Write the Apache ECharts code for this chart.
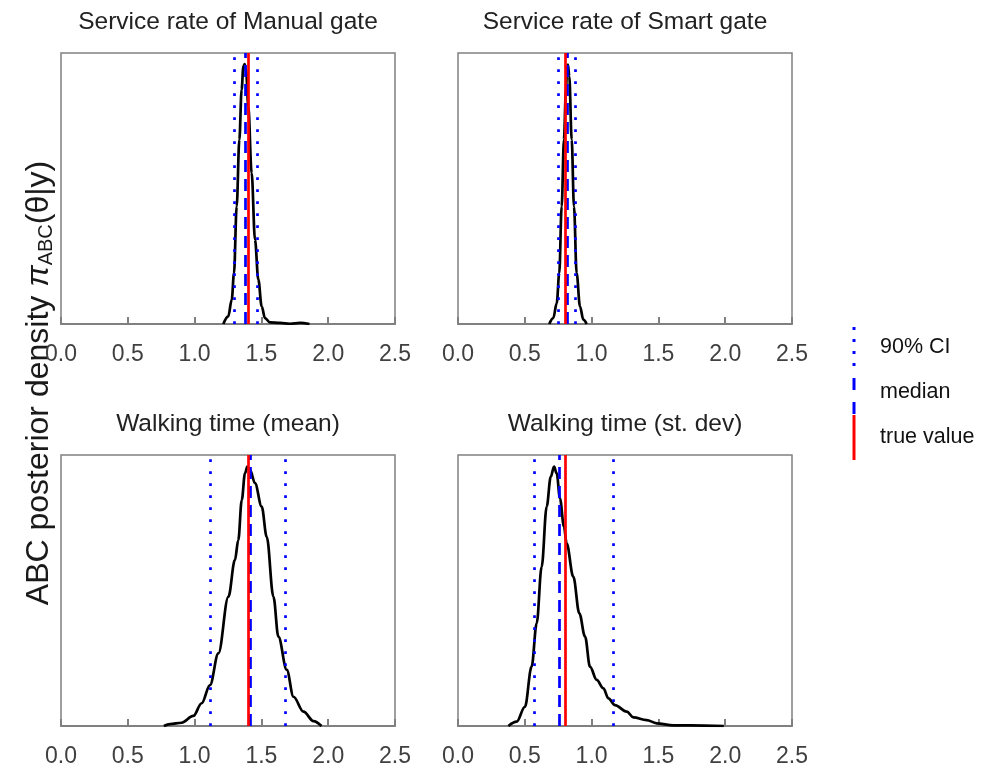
<!DOCTYPE html>
<html>
<head>
<meta charset="utf-8">
<script src="https://cdn.jsdelivr.net/npm/echarts@6/dist/echarts.min.js"></script>
<style>
  html, body { margin: 0; padding: 0; background: #fff; }
  #chart { width: 993px; height: 770px; }
</style>
</head>
<body>
<div id="chart"></div>
<script>
// panel titles, x ticks
const panelTitles = ['Service rate of Manual gate', 'Service rate of Smart gate', 'Walking time (mean)', 'Walking time (st. dev)']
const xTicks = [0, 0.5, 1.0, 1.5, 2.0, 2.5]

// posterior density curves (relative height)
const manualX = [1.215, 1.252, 1.278, 1.295, 1.315, 1.335, 1.352, 1.365, 1.375, 1.385, 1.402, 1.427, 1.452, 1.477, 1.502, 1.527, 1.564, 1.639, 1.714, 1.789, 1.86]
const manualY = [0, 0.028, 0.090, 0.188, 0.434, 0.680, 0.865, 0.951, 0.959, 0.937, 0.803, 0.557, 0.311, 0.164, 0.065, 0.022, 0.006, 0.004, 0.001, 0.004, 0]

const smartX = [0.683, 0.713, 0.739, 0.758, 0.776, 0.793, 0.808, 0.816, 0.823, 0.833, 0.851, 0.868, 0.888, 0.913, 0.938, 0.963]
const smartY = [0, 0.022, 0.077, 0.188, 0.434, 0.680, 0.865, 0.944, 0.957, 0.914, 0.680, 0.434, 0.188, 0.065, 0.016, 0]

const walkMeanX = [0.77, 0.816, 0.903, 0.99, 1.053, 1.115, 1.178, 1.253, 1.302, 1.327, 1.353, 1.377, 1.395, 1.415, 1.452, 1.502, 1.54, 1.59, 1.627, 1.69, 1.74, 1.815, 1.89, 1.95]
const walkMeanY = [0, 0.007, 0.012, 0.037, 0.084, 0.151, 0.268, 0.477, 0.613, 0.686, 0.834, 0.932, 0.957, 0.945, 0.896, 0.810, 0.698, 0.477, 0.330, 0.207, 0.108, 0.053, 0.018, 0]

const walkSdX = [0.377, 0.439, 0.501, 0.551, 0.589, 0.626, 0.664, 0.694, 0.719, 0.739, 0.763, 0.793, 0.813, 0.863, 0.908, 0.951, 0.988, 1.038, 1.088, 1.126, 1.175, 1.263, 1.313, 1.412, 1.487, 1.612, 1.737, 1.99]
const walkSdY = [0, 0.016, 0.071, 0.219, 0.379, 0.587, 0.810, 0.919, 0.957, 0.932, 0.84, 0.736, 0.674, 0.551, 0.416, 0.330, 0.219, 0.170, 0.139, 0.102, 0.077, 0.053, 0.032, 0.022, 0.010, 0.002, 0.002, 0]

// summary lines per panel
const ciLow = [1.297, 0.751, 1.12, 0.571]
const ciHigh = [1.469, 0.881, 1.68, 1.155]
const medians = [1.377, 0.818, 1.415, 0.761]
const trueValues = [1.4, 0.8, 1.4, 0.8]

const curvesX = [manualX, smartX, walkMeanX, walkSdX]
const curvesY = [manualY, smartY, walkMeanY, walkSdY]

const FONT = 'Liberation Sans, Arial, sans-serif'
const FRAME = '#808080'
const BLUE = '#0000ff'
const RED = '#ff0000'

// panel boxes (px)
const panelLeft = [61, 458, 61, 458]
const panelTop = [53, 53, 455, 455]
const panelW = 334
const panelH = 271

const chart = echarts.init(document.getElementById('chart'), null, { renderer: 'canvas' })

const grids = panelLeft.map((left, i) => ({
  left,
  top: panelTop[i],
  width: panelW,
  height: panelH,
  show: true,
  borderColor: FRAME,
  borderWidth: 1.5,
  backgroundColor: 'transparent'
}))

const xAxes = grids.map((g, i) => ({
  type: 'value',
  gridIndex: i,
  min: xTicks[0],
  max: xTicks[xTicks.length - 1],
  interval: xTicks[1] - xTicks[0],
  axisLine: { show: true, lineStyle: { color: FRAME, width: 2 } },
  axisTick: { show: true, inside: true, length: 7, lineStyle: { color: FRAME, width: 2 } },
  axisLabel: {
    color: '#404040',
    fontFamily: FONT,
    fontSize: 23,
    margin: 19,
    formatter: (v) => v.toFixed(1)
  },
  splitLine: { show: false }
}))

const yAxes = grids.map((g, i) => ({
  type: 'value',
  gridIndex: i,
  min: 0,
  max: 1,
  axisLine: { show: false },
  axisTick: { show: false },
  axisLabel: { show: false },
  splitLine: { show: false }
}))

const titles = panelTitles.map((text, i) => ({
  text,
  left: panelLeft[i] + panelW / 2,
  top: i < 2 ? 10 : 412,
  textAlign: 'center',
  padding: 0,
  textStyle: { fontFamily: FONT, fontSize: 24.5, fontWeight: 'normal', color: '#222' }
}))

const series = []
curvesX.forEach((xs, i) => {
  series.push({
    type: 'line',
    name: 'density',
    xAxisIndex: i,
    yAxisIndex: i,
    data: xs.map((x, k) => [x, curvesY[i][k]]),
    showSymbol: false,
    smooth: 0.35,
    smoothMonotone: 'x',
    lineStyle: { color: '#000', width: 2.7 },
    itemStyle: { color: '#000' },
    z: 2,
    silent: true
  })
  const markLine = (xs2, type, color) => ({
    symbol: 'none',
    silent: true,
    label: { show: false },
    lineStyle: { color, width: 2.7, type, cap: 'butt' },
    data: xs2.map((v) => ({ xAxis: v }))
  })
  series.push({
    type: 'line',
    name: '90% CI',
    xAxisIndex: i,
    yAxisIndex: i,
    data: [],
    color: BLUE,
    z: 3,
    markLine: markLine([ciLow[i], ciHigh[i]], [2.7, 9.3], BLUE)
  })
  series.push({
    type: 'line',
    name: 'median',
    xAxisIndex: i,
    yAxisIndex: i,
    data: [],
    color: BLUE,
    z: 4,
    markLine: markLine([medians[i]], [12, 7], BLUE)
  })
  series.push({
    type: 'line',
    name: 'true value',
    xAxisIndex: i,
    yAxisIndex: i,
    data: [],
    color: RED,
    z: 5,
    markLine: markLine([trueValues[i]], 'solid', RED)
  })
})

const option = {
  animation: false,
  backgroundColor: '#fff',
  title: titles,
  grid: grids,
  xAxis: xAxes,
  yAxis: yAxes,
  legend: {
    orient: 'vertical',
    left: 852.5,
    top: 325,
    padding: 0,
    itemWidth: 42,
    itemHeight: 45,
    itemGap: 0,
    selectedMode: false,
    textStyle: { fontFamily: FONT, fontSize: 21.5, color: '#111' },
    data: [
      { name: '90% CI', icon: 'path://M0,0 M0,2h3v3h-3z M0,14h3v3h-3z M0,26h3v3h-3z M0,38h3v3h-3z M3,45', itemStyle: { color: BLUE } },
      { name: 'median', icon: 'path://M0,0 M0,8h3v12h-3z M0,32h3v12h-3z M3,45', itemStyle: { color: BLUE } },
      { name: 'true value', icon: 'path://M0,0h3v45h-3z', itemStyle: { color: RED } }
    ]
  },
  graphic: [{
    type: 'text',
    x: 39,
    y: 383,
    rotation: Math.PI / 2,
    silent: true,
    style: {
      text: '{m|ABC posterior density }{p|π}{s|ABC}{m|(θ|y)}',
      align: 'center',
      verticalAlign: 'middle',
      fill: '#1a1a1a',
      rich: {
        m: { fontFamily: FONT, fontSize: 32, lineHeight: 34, fill: '#1a1a1a' },
        p: { fontFamily: FONT, fontSize: 32, lineHeight: 34, fontStyle: 'italic', fill: '#1a1a1a' },
        s: { fontFamily: FONT, fontSize: 20, lineHeight: 18, verticalAlign: 'bottom', fill: '#1a1a1a' }
      }
    }
  }],
  series
}

chart.setOption(option)
</script>
</body>
</html>
